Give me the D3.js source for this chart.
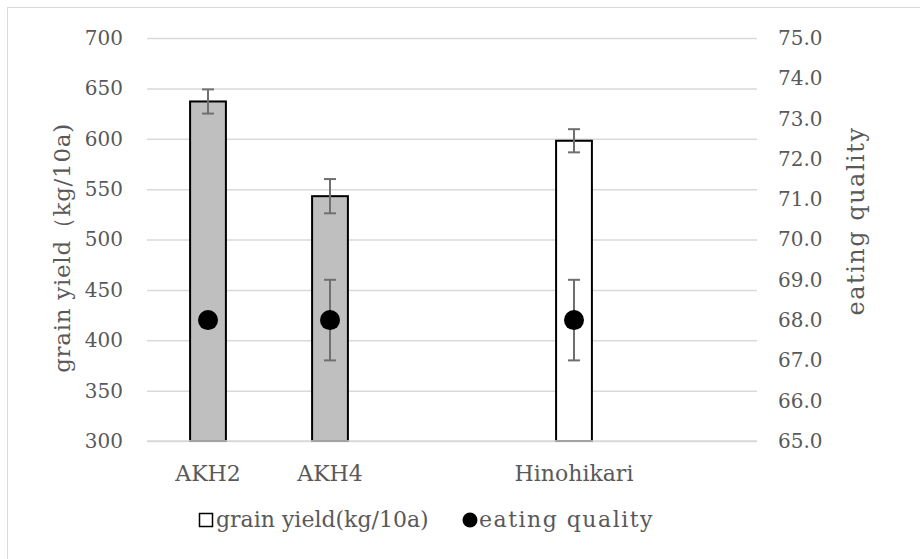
<!DOCTYPE html>
<html><head><meta charset="utf-8">
<script src="https://cdn.jsdelivr.net/npm/d3@7"></script>
<style>body{margin:0;background:#fff}svg{display:block}text{font-family:"DejaVu Serif","Liberation Serif",serif;fill:#595959}</style>
</head><body>
<script>
const categories = ["AKH2", "AKH4", "", "Hinohikari", " "];
const yieldValues = [637, 543, null, 598, null];
const yieldErrors = [12, 17, null, 11.5, null];
const barFills = ["#bfbfbf", "#bfbfbf", null, "#ffffff", null];
const qualityValues = [68.0, 68.0, null, 68.0, null];
const qualityErrors = [0, 1.0, null, 1.0, null];
const leftTicks = [300, 350, 400, 450, 500, 550, 600, 650, 700];
const rightTicks = [65, 66, 67, 68, 69, 70, 71, 72, 73, 74, 75];
const leftTitle = "grain yield（kg/10a)";
const rightTitle = "eating quality";
const legendLabels = ["grain yield(kg/10a)", "eating quality"];

const W = 920, H = 559;
const svg = d3.select("body").append("svg").attr("width", W).attr("height", H);
svg.append("rect").attr("x", 7.5).attr("y", 7.5).attr("width", W + 20).attr("height", H + 20)
  .attr("fill", "#fff").attr("stroke", "#d9d9d9");

const x = d3.scaleBand().domain(categories).range([147, 757]).paddingInner(0.69).paddingOuter(0.345);
const yL = d3.scaleLinear().domain([300, 700]).range([441, 38]);
const yR = d3.scaleLinear().domain([65, 75]).range([441, 38]);

// gridlines
const gl = d3.axisLeft(yL).tickValues(leftTicks).tickSize(-(757 - 147)).tickFormat("");
const gg = svg.append("g").attr("transform", "translate(147,0)").call(gl);
gg.select(".domain").remove();
gg.selectAll("line").attr("stroke", "#d9d9d9").attr("stroke-width", 1.5);

// left tick labels
const la = d3.axisLeft(yL).tickValues(leftTicks).tickSize(0).tickPadding(0).tickFormat(d3.format("d"));
const lg = svg.append("g").attr("transform", "translate(123,0)").call(la);
lg.select(".domain").remove();
lg.selectAll("text").attr("font-size", 20).attr("fill", "#595959").style("font-family", "DejaVu Serif");

const ra = d3.axisRight(yR).tickValues(rightTicks).tickSize(0).tickPadding(0).tickFormat(d3.format(".1f"));
const rg = svg.append("g").attr("transform", "translate(778,0)").call(ra);
rg.select(".domain").remove();
rg.selectAll("text").attr("font-size", 20).attr("fill", "#595959").style("font-family", "DejaVu Serif");

// x labels
const xa = d3.axisBottom(x).tickSize(0).tickPadding(0);
const xg = svg.append("g").attr("transform", "translate(0,465)").call(xa);
xg.select(".domain").remove();
xg.selectAll("text").attr("font-size", 22).attr("fill", "#595959").style("font-family", "DejaVu Serif");

// bars
const idx = d3.range(categories.length).filter(i => yieldValues[i] != null);
svg.append("g").selectAll("rect").data(idx).join("rect")
  .attr("x", i => x(categories[i]) + 1)
  .attr("width", x.bandwidth() - 2)
  .attr("y", i => yL(yieldValues[i]))
  .attr("height", i => yL(300) - yL(yieldValues[i]))
  .attr("fill", i => barFills[i]).attr("stroke", "#000").attr("stroke-width", 2);

// baseline drawn over bars
svg.append("line").attr("x1", 147).attr("x2", 757).attr("y1", yL(300)).attr("y2", yL(300))
  .attr("stroke", "#d9d9d9").attr("stroke-width", 1.5);

// bar error bars
const eb = svg.append("g").attr("stroke", "#6f6f6f").attr("stroke-width", 2);
idx.forEach(i => {
  const cx = x(categories[i]) + x.bandwidth() / 2;
  const t = yL(yieldValues[i] + yieldErrors[i]), b = yL(yieldValues[i] - yieldErrors[i]);
  eb.append("line").attr("x1", cx).attr("x2", cx).attr("y1", t).attr("y2", b);
  eb.append("line").attr("x1", cx - 6).attr("x2", cx + 6).attr("y1", t).attr("y2", t);
  eb.append("line").attr("x1", cx - 6).attr("x2", cx + 6).attr("y1", b).attr("y2", b);
});

// quality error bars + markers
const qi = d3.range(categories.length).filter(i => qualityValues[i] != null);
const qe = svg.append("g").attr("stroke", "#6f6f6f").attr("stroke-width", 2);
qi.filter(i => qualityErrors[i] > 0).forEach(i => {
  const cx = x(categories[i]) + x.bandwidth() / 2;
  const t = yR(qualityValues[i] + qualityErrors[i]), b = yR(qualityValues[i] - qualityErrors[i]);
  qe.append("line").attr("x1", cx).attr("x2", cx).attr("y1", t).attr("y2", b);
  qe.append("line").attr("x1", cx - 6).attr("x2", cx + 6).attr("y1", t).attr("y2", t);
  qe.append("line").attr("x1", cx - 6).attr("x2", cx + 6).attr("y1", b).attr("y2", b);
});
svg.append("g").selectAll("circle").data(qi).join("circle")
  .attr("cx", i => x(categories[i]) + x.bandwidth() / 2)
  .attr("cy", i => yR(qualityValues[i]))
  .attr("r", 10).attr("fill", "#000");

// axis titles
svg.append("text").attr("transform", "translate(70,248) rotate(-90)").attr("text-anchor", "middle")
  .attr("font-size", 23).style("letter-spacing", "0.7px").text(leftTitle);
svg.append("text").attr("transform", "translate(864,221) rotate(-90)").attr("text-anchor", "middle")
  .attr("font-size", 24).style("letter-spacing", "1.5px").text(rightTitle);

// legend
const lgd = svg.append("g");
lgd.append("rect").attr("x", 199.5).attr("y", 513.5).attr("width", 13).attr("height", 13)
  .attr("fill", "#fff").attr("stroke", "#000").attr("stroke-width", 1.5);
lgd.append("text").attr("x", 216).attr("y", 527).attr("font-size", 22).text(legendLabels[0]);
lgd.append("circle").attr("cx", 470).attr("cy", 520).attr("r", 7.5).attr("fill", "#000");
lgd.append("text").attr("x", 479).attr("y", 527).attr("font-size", 22).style("letter-spacing", "1.5px").text(legendLabels[1]);
</script>
</body></html>
